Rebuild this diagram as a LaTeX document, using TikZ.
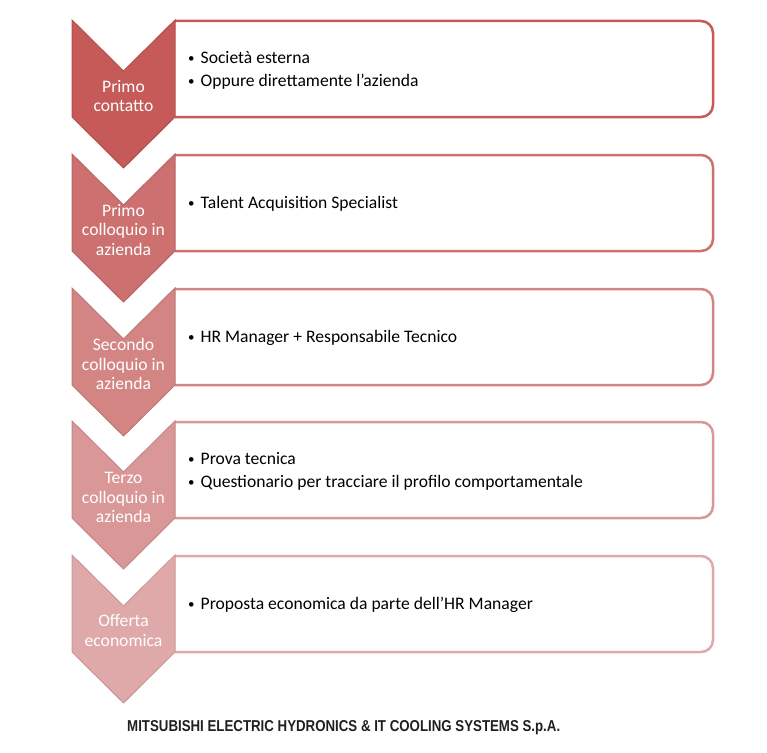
\documentclass[tikz,border=0pt]{standalone}
\usepackage{fontspec}
\setmainfont{Carlito}
\newfontfamily\footfont{Liberation Sans}
\usepackage{tikz}
\usetikzlibrary{positioning,calc}
\definecolor{cv1}{HTML}{C55A58}
\definecolor{cv2}{HTML}{CC7070}
\definecolor{cv3}{HTML}{D38584}
\definecolor{cv4}{HTML}{D99798}
\definecolor{cv5}{HTML}{E0A9A9}
\definecolor{ink}{HTML}{231F20}
\newcommand{\bul}{\raisebox{1pt}{\fontsize{13}{13}\selectfont\textbullet}\hspace{6pt}}

\begin{document}
\begin{tikzpicture}[x=1pt,y=-1pt,
  chev/.style={line width=1pt,line join=miter},
  boxline/.style={line width=2.5pt,rounded corners=12pt},
  lab/.style={text=white,align=center,font=\fontsize{17.6}{19.5}\selectfont},
  txt/.style={anchor=west,inner sep=0pt,align=left,font=\fontsize{17.6}{23}\selectfont}]
  \useasboundingbox (0,0) rectangle (767,752);
  % chevrons and boxes
  \foreach \i/\s in {1/20,2/154,3/288,4/421,5/555} {
    \draw[boxline,draw=cv\i,fill=white] (175,\s+1) -- (713,\s+1) -- (713,\s+97) -- (175,\s+97);
    \filldraw[chev,fill=cv\i,draw=cv\i!90!black] (72,\s) -- (123.5,\s+51) -- (175,\s) -- (175,\s+97) -- (123.5,\s+148) -- (72,\s+97) -- cycle;}
  % steps
  \node[lab] (l1) at (123.5,96) {Primo\\contatto};
  \node[lab] (l2) at (123.5,230) {Primo\\colloquio in\\azienda};
  \node[lab] (l3) at (123.5,364) {Secondo\\colloquio in\\azienda};
  \node[lab] (l4) at (123.5,497.5) {Terzo\\colloquio in\\azienda};
  \node[lab] (l5) at (123.5,630.5) {Offerta\\economica};
  % details
  \node[txt] (t1) at (188,70) {\bul Società esterna\\ \bul Oppure direttamente l’azienda};
  \node[txt] (t2) at (188,204) {\bul Talent Acquisition Specialist};
  \node[txt] (t3) at (188,338) {\bul HR Manager + Responsabile Tecnico};
  \node[txt] (t4) at (188,471) {\bul Prova tecnica\\ \bul Questionario per tracciare il profilo comportamentale};
  \node[txt] (t5) at (188,605) {\bul Proposta economica da parte dell’HR Manager};
  \node[anchor=base west,inner sep=0pt,text=ink] (foot) at (127,731.5)
    {\resizebox{433pt}{11pt}{\footfont\bfseries MITSUBISHI ELECTRIC HYDRONICS \& IT COOLING SYSTEMS S.p.A.}};
\end{tikzpicture}
\end{document}
